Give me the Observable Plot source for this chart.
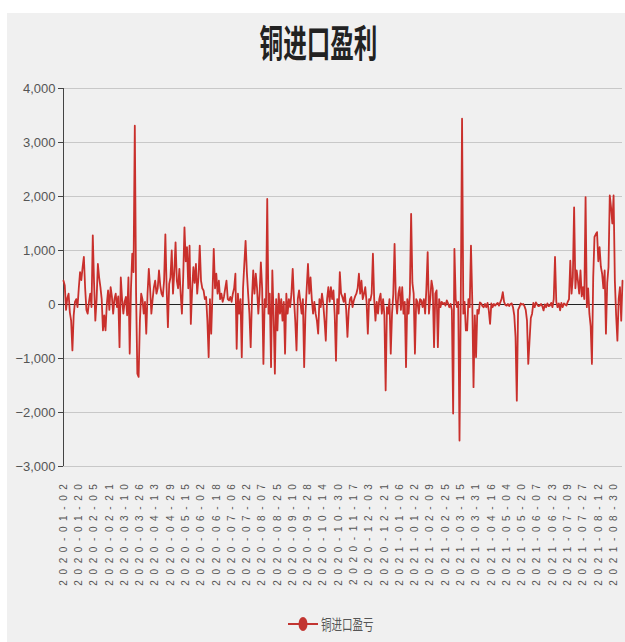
<!DOCTYPE html>
<html><head><meta charset="utf-8">
<script src="https://cdn.jsdelivr.net/npm/d3@7"></script>
<script src="https://cdn.jsdelivr.net/npm/@observablehq/plot@0.6"></script>
<style>
html,body{margin:0;padding:0;background:#fff;}
body{width:625px;height:642px;overflow:hidden;position:relative;font-family:"Noto Sans CJK SC","Liberation Sans",sans-serif;}
#panel{position:absolute;left:7px;top:13px;right:0;bottom:0;background:#f0f0f0;}
#title{position:absolute;left:12px;right:0;top:20px;height:42px;line-height:42px;text-align:center;font-size:38px;font-weight:bold;color:#222;transform:scaleX(0.62);white-space:nowrap;}
#chart{position:absolute;left:0;top:70px;}
#legend-icon{position:absolute;left:287px;top:614px;}
#legend-text{position:absolute;left:321px;top:612px;height:24px;line-height:24px;font-size:15px;color:#555;transform:scaleX(0.7);transform-origin:left center;white-space:nowrap;}
</style>
</head><body>
<div id="panel"></div>
<div id="title">铜进口盈利</div>
<div id="chart"></div>
<svg id="legend-icon" width="32" height="20"><line x1="1" y1="10" x2="31" y2="10" stroke="#c23531" stroke-width="2"/><ellipse cx="16" cy="10" rx="4.5" ry="7" fill="#c23531"/></svg>
<div id="legend-text">铜进口盈亏</div>
<script>
const seriesName = "铜进口盈亏";
const yTicks = [-3000, -2000, -1000, 0, 1000, 2000, 3000, 4000];
const tickLabels = ["2020-01-02","2020-01-20","2020-02-05","2020-02-21","2020-03-10","2020-03-26","2020-04-13","2020-04-29","2020-05-15","2020-06-02","2020-06-18","2020-07-06","2020-07-22","2020-08-07","2020-08-25","2020-09-10","2020-09-28","2020-10-14","2020-10-30","2020-11-17","2020-12-03","2020-12-21","2021-01-06","2021-01-22","2021-02-09","2021-02-25","2021-03-15","2021-03-31","2021-04-16","2021-05-04","2021-05-20","2021-06-07","2021-06-23","2021-07-09","2021-07-27","2021-08-12","2021-08-30"];
const tickStep = 12;
const values = [
440,350,-100,120,200,-150,-300,-850,-200,50,
100,-50,300,600,450,690,880,300,-100,-170,
50,200,-50,1280,400,-300,100,750,500,320,
100,-480,-200,-480,0,260,-100,320,150,-170,
100,200,-50,150,-790,500,100,-170,50,140,
-200,500,-910,300,940,600,3310,200,-1280,-1340,
-300,200,100,-170,50,-540,200,660,300,-170,
100,320,440,200,300,630,350,200,150,440,
1300,300,-420,380,500,1000,200,600,1150,440,
300,660,200,-170,500,1430,800,1060,300,1090,
-360,260,690,400,750,200,500,1090,440,300,
260,100,140,-300,-975,100,-540,200,1030,300,
570,200,440,100,200,50,140,300,440,100,
75,140,50,200,300,570,-820,200,-170,100,
-975,300,750,1180,600,200,-170,-790,100,630,
200,570,300,-170,200,780,300,-1100,100,-50,
1955,-170,200,-1160,630,-200,-1280,100,-480,200,
-170,100,-300,50,-910,200,-170,100,-50,200,
660,100,-300,-850,100,260,50,-170,100,-1160,
-170,300,750,200,500,100,-170,50,-170,-300,
-540,100,-50,200,10,-300,-670,100,320,50,
320,100,260,-200,-1040,100,-170,600,200,140,
50,200,-100,-600,-110,100,140,-50,75,150,
200,300,570,200,440,100,200,320,50,-540,
100,75,200,940,100,-300,50,-170,100,200,
-170,100,-200,-1590,-50,-170,100,-910,-170,200,
1120,100,-170,200,320,-100,320,-170,50,-1160,
100,-170,200,1680,400,200,-910,100,50,-170,
100,75,-50,100,-170,300,970,-170,100,440,
300,-790,200,260,-790,100,-50,50,10,30,
-20,75,20,-50,10,-100,-2020,1030,100,-50,
50,-2520,100,3440,-170,50,-480,-480,100,-50,
1090,100,-1530,-200,-975,-100,-170,40,20,-30,
-50,10,-50,30,-110,-360,20,-50,10,-20,
10,30,-20,40,100,230,50,-10,-20,10,
-30,10,20,-50,-200,-600,-1780,-100,-50,20,
0,10,-30,-100,-300,-1100,-670,-250,-170,30,
-50,40,0,-30,-20,10,-30,-110,0,-50,
20,-30,-20,30,-50,100,880,50,-50,20,
-110,30,-50,20,0,-20,50,100,810,200,
500,1800,300,630,440,200,630,150,320,100,
1990,-50,300,-170,-400,-1100,500,1250,1300,1340,
800,1060,700,570,300,630,-540,400,690,2020,
1800,1500,2020,440,-200,-670,100,320,-300,440
];
const data = values.map((v, i) => ({i, v}));
const tickIdx = tickLabels.map((_, k) => k * tickStep);

const chart = Plot.plot({
  width: 625, height: 540,
  marginLeft: 63, marginRight: 3, marginTop: 18, marginBottom: 144,
  style: {background: "transparent", fontFamily: "'Liberation Sans', Arial, sans-serif", color: "#555"},
  x: {type: "linear", domain: [0, values.length - 1]},
  y: {domain: [-3000, 4000]},
  marks: [
    Plot.ruleY(yTicks, {stroke: "#c8c8c8", strokeWidth: 1}),
    Plot.ruleX([0], {stroke: "#444", strokeWidth: 1}),
    Plot.axisY({ticks: yTicks, tickFormat: d3.format(","), tickSize: 5, tickPadding: 3, fontSize: 13, label: null, stroke: "#444"}),
    Plot.ruleY([0], {stroke: "#222", strokeWidth: 1.2}),
    Plot.line(data, {x: "i", y: "v", stroke: "#c9302c", strokeWidth: 1.8}),
    Plot.axisX({ticks: tickIdx, tickFormat: d => tickLabels[Math.round(d / tickStep)], tickRotate: -90, tickSize: 0, tickPadding: 12, fontSize: 10, label: null})
  ]
});
document.getElementById("chart").appendChild(chart);
d3.select(chart).selectAll('g[aria-label="x-axis tick label"] text').attr("letter-spacing", "5.6px").attr("fill", "#555");
d3.select(chart).selectAll('g[aria-label="y-axis tick label"] text').attr("fill", "#555");
</script>
</body></html>
